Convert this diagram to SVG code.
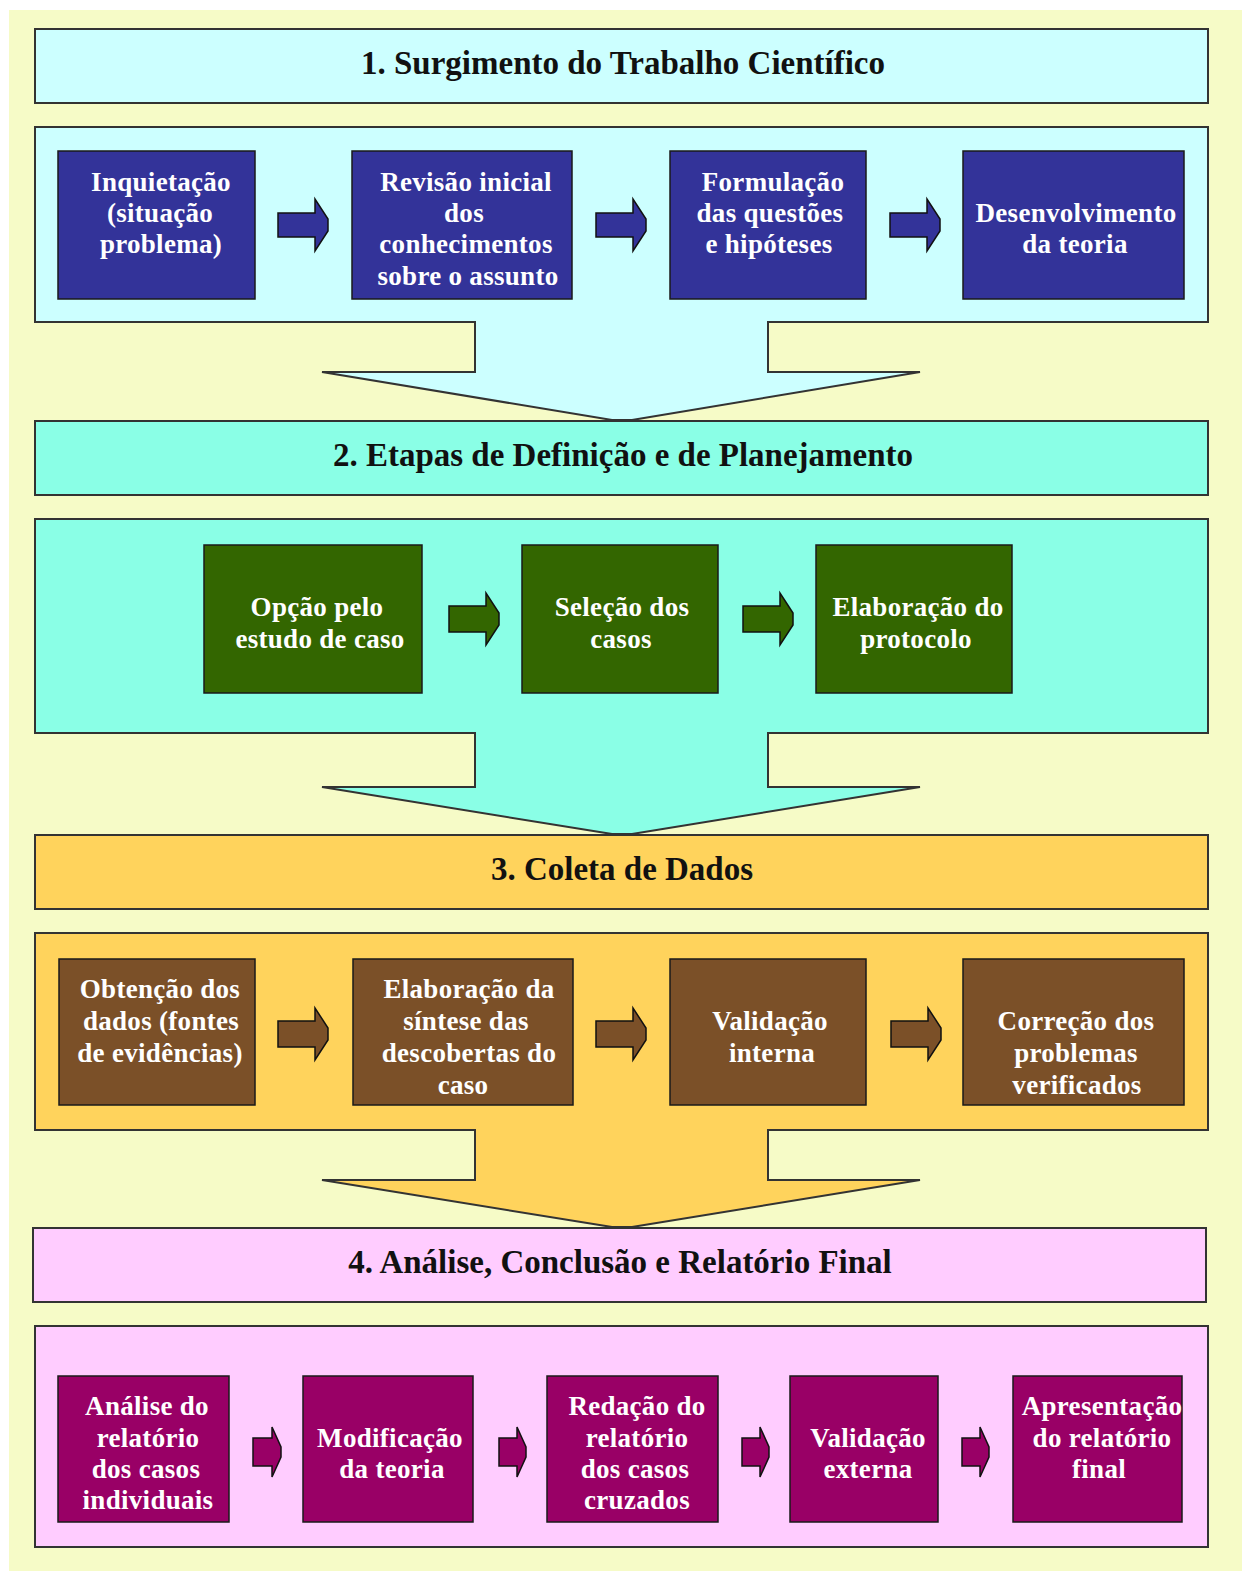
<svg xmlns="http://www.w3.org/2000/svg" width="1247" height="1571" viewBox="0 0 1247 1571">
  <style>
    .hdr { stroke: #333; stroke-width: 2; }
    .panel { stroke: #333; stroke-width: 2; stroke-linejoin: miter; }
    .box { stroke: #1a1a1a; stroke-width: 1.5; }
    .arr { stroke: #111; stroke-width: 1.5; stroke-linejoin: miter; }
    .htxt { font-family: "Liberation Serif", "Times New Roman", serif; font-weight: bold; font-size: 33px; fill: #111; text-anchor: middle; }
    .ntxt { font-family: "Liberation Serif", "Times New Roman", serif; font-weight: bold; font-size: 27px; letter-spacing: 0.3px; fill: #fff; text-anchor: middle; }
    .s1 { fill: #ccffff; }
    .s2 { fill: #8affe6; }
    .s3 { fill: #ffd35c; }
    .s4 { fill: #ffccff; }
    .blue { fill: #333399; }
    .green { fill: #336600; }
    .brown { fill: #7b5028; }
    .mag { fill: #990066; }
  </style>

  <!-- page background -->
  <rect x="9" y="10" width="1233" height="1561" fill="#f6fbc7"/>

  <!-- section panels with their downward funnel arrows -->
  <g id="sections">
    <rect id="header-1" class="hdr s1" x="35" y="29" width="1173" height="74"/>
    <path id="panel-1" class="panel s1" d="M35,127 H1208 V322 H768 V372 H920 L632,420 H612 L322,372 H475 V322 H35 Z"/>

    <rect id="header-2" class="hdr s2" x="35" y="421" width="1173" height="74"/>
    <path id="panel-2" class="panel s2" d="M35,519 H1208 V733 H768 V787 H920 L632,834 H612 L322,787 H475 V733 H35 Z"/>

    <rect id="header-3" class="hdr s3" x="35" y="835" width="1173" height="74"/>
    <path id="panel-3" class="panel s3" d="M35,933 H1208 V1130 H768 V1180 H920 L632,1227 H612 L322,1180 H475 V1130 H35 Z"/>

    <rect id="header-4" class="hdr s4" x="33" y="1228" width="1173" height="74"/>
    <rect id="panel-4" class="panel s4" x="35" y="1326" width="1173" height="221"/>
  </g>

  <!-- section titles -->
  <g id="titles">
    <text class="htxt" x="623" y="74">1. Surgimento do Trabalho Científico</text>
    <text class="htxt" x="623" y="466">2. Etapas de Definição e de Planejamento</text>
    <text class="htxt" x="622" y="880">3. Coleta de Dados</text>
    <text class="htxt" x="620" y="1273">4. Análise, Conclusão e Relatório Final</text>
  </g>

  <!-- connectors between steps -->
  <g id="connectors">
    <!-- section 1 -->
    <polygon class="arr blue" points="278,213 315,213 315,199 328,219 328,231 315,251 315,237 278,237"/>
    <polygon class="arr blue" points="596,213 633,213 633,199 646,219 646,231 633,251 633,237 596,237"/>
    <polygon class="arr blue" points="890,213 927,213 927,199 940,219 940,231 927,251 927,237 890,237"/>
    <!-- section 2 -->
    <polygon class="arr green" points="449,606 486,606 486,593 499,613 499,625 486,645 486,632 449,632"/>
    <polygon class="arr green" points="743,606 780,606 780,593 793,613 793,625 780,645 780,632 743,632"/>
    <!-- section 3 -->
    <polygon class="arr brown" points="278,1021 315,1021 315,1008 328,1028 328,1040 315,1060 315,1047 278,1047"/>
    <polygon class="arr brown" points="596,1021 633,1021 633,1008 646,1028 646,1040 633,1060 633,1047 596,1047"/>
    <polygon class="arr brown" points="891,1021 928,1021 928,1008 941,1028 941,1040 928,1060 928,1047 891,1047"/>
    <!-- section 4 -->
    <polygon class="arr mag" points="253,1438 272,1438 272,1427 281,1447 281,1457 272,1477 272,1466 253,1466"/>
    <polygon class="arr mag" points="499,1438 517,1438 517,1427 526,1447 526,1457 517,1477 517,1466 499,1466"/>
    <polygon class="arr mag" points="742,1438 760,1438 760,1427 769,1447 769,1457 760,1477 760,1466 742,1466"/>
    <polygon class="arr mag" points="962,1438 980,1438 980,1427 989,1447 989,1457 980,1477 980,1466 962,1466"/>
  </g>

  <!-- 1. Surgimento do Trabalho Científico -->
  <g id="inquietacao">
    <rect class="box blue" x="58" y="151" width="197" height="148"/>
    <text class="ntxt" x="161" y="191">Inquietação</text>
    <text class="ntxt" x="160" y="222">(situação</text>
    <text class="ntxt" x="161" y="253">problema)</text>
  </g>
  <g id="revisao-inicial">
    <rect class="box blue" x="352" y="151" width="220" height="148"/>
    <text class="ntxt" x="466" y="191">Revisão inicial</text>
    <text class="ntxt" x="464" y="222">dos</text>
    <text class="ntxt" x="466" y="253">conhecimentos</text>
    <text class="ntxt" x="468" y="285">sobre o assunto</text>
  </g>
  <g id="formulacao">
    <rect class="box blue" x="670" y="151" width="196" height="148"/>
    <text class="ntxt" x="773" y="191">Formulação</text>
    <text class="ntxt" x="770" y="222">das questões</text>
    <text class="ntxt" x="769" y="253">e hipóteses</text>
  </g>
  <g id="desenvolvimento">
    <rect class="box blue" x="963" y="151" width="221" height="148"/>
    <text class="ntxt" x="1076" y="222">Desenvolvimento</text>
    <text class="ntxt" x="1075" y="253">da teoria</text>
  </g>

  <!-- 2. Etapas de Definição e de Planejamento -->
  <g id="opcao-estudo-caso">
    <rect class="box green" x="204" y="545" width="218" height="148"/>
    <text class="ntxt" x="317" y="616">Opção pelo</text>
    <text class="ntxt" x="320" y="648">estudo de caso</text>
  </g>
  <g id="selecao-casos">
    <rect class="box green" x="522" y="545" width="196" height="148"/>
    <text class="ntxt" x="622" y="616">Seleção dos</text>
    <text class="ntxt" x="621" y="648">casos</text>
  </g>
  <g id="elaboracao-protocolo">
    <rect class="box green" x="816" y="545" width="196" height="148"/>
    <text class="ntxt" x="918" y="616">Elaboração do</text>
    <text class="ntxt" x="916" y="648">protocolo</text>
  </g>

  <!-- 3. Coleta de Dados -->
  <g id="obtencao-dados">
    <rect class="box brown" x="59" y="959" width="196" height="146"/>
    <text class="ntxt" x="160" y="998">Obtenção dos</text>
    <text class="ntxt" x="161" y="1030">dados (fontes</text>
    <text class="ntxt" x="160" y="1062">de evidências)</text>
  </g>
  <g id="elaboracao-sintese">
    <rect class="box brown" x="353" y="959" width="220" height="146"/>
    <text class="ntxt" x="469" y="998">Elaboração da</text>
    <text class="ntxt" x="466" y="1030">síntese das</text>
    <text class="ntxt" x="469" y="1062">descobertas do</text>
    <text class="ntxt" x="463" y="1094">caso</text>
  </g>
  <g id="validacao-interna">
    <rect class="box brown" x="670" y="959" width="196" height="146"/>
    <text class="ntxt" x="770" y="1030">Validação</text>
    <text class="ntxt" x="772" y="1062">interna</text>
  </g>
  <g id="correcao-problemas">
    <rect class="box brown" x="963" y="959" width="221" height="146"/>
    <text class="ntxt" x="1076" y="1030">Correção dos</text>
    <text class="ntxt" x="1076" y="1062">problemas</text>
    <text class="ntxt" x="1077" y="1094">verificados</text>
  </g>

  <!-- 4. Análise, Conclusão e Relatório Final -->
  <g id="analise-relatorio">
    <rect class="box mag" x="58" y="1376" width="171" height="146"/>
    <text class="ntxt" x="147" y="1415">Análise do</text>
    <text class="ntxt" x="148" y="1447">relatório</text>
    <text class="ntxt" x="146" y="1478">dos casos</text>
    <text class="ntxt" x="148" y="1509">individuais</text>
  </g>
  <g id="modificacao-teoria">
    <rect class="box mag" x="303" y="1376" width="170" height="146"/>
    <text class="ntxt" x="390" y="1447">Modificação</text>
    <text class="ntxt" x="392" y="1478">da teoria</text>
  </g>
  <g id="redacao-relatorio">
    <rect class="box mag" x="547" y="1376" width="171" height="146"/>
    <text class="ntxt" x="637" y="1415">Redação do</text>
    <text class="ntxt" x="637" y="1447">relatório</text>
    <text class="ntxt" x="635" y="1478">dos casos</text>
    <text class="ntxt" x="637" y="1509">cruzados</text>
  </g>
  <g id="validacao-externa">
    <rect class="box mag" x="790" y="1376" width="148" height="146"/>
    <text class="ntxt" x="868" y="1447">Validação</text>
    <text class="ntxt" x="868" y="1478">externa</text>
  </g>
  <g id="apresentacao-relatorio">
    <rect class="box mag" x="1013" y="1376" width="169" height="146"/>
    <text class="ntxt" x="1102" y="1415">Apresentação</text>
    <text class="ntxt" x="1102" y="1447">do relatório</text>
    <text class="ntxt" x="1099" y="1478">final</text>
  </g>
</svg>
